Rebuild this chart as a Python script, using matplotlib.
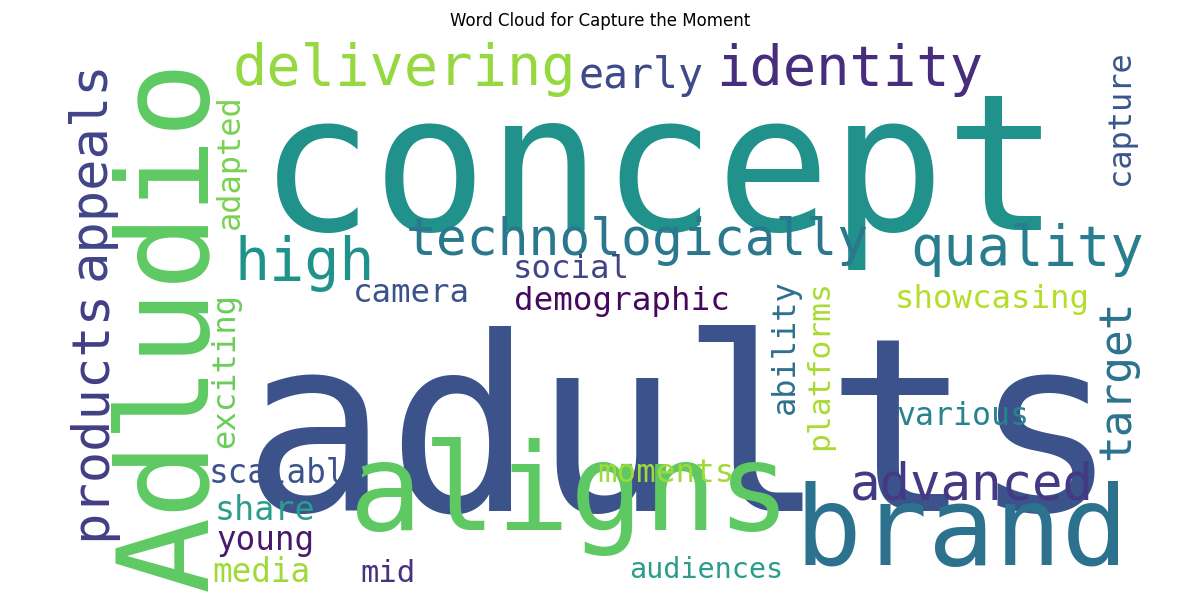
import matplotlib
matplotlib.use("Agg")
import matplotlib.pyplot as plt

# word data
words = ["adults", "concept", "Adludio", "aligns", "brand", "delivering", "identity", "early",
         "technologically", "high", "quality", "appeals", "products", "target", "advanced",
         "capture", "adapted", "social", "camera", "demographic", "showcasing", "exciting",
         "ability", "platforms", "various", "scalable", "moments", "share", "young", "media",
         "mid", "audiences"]
sizes_pt = [175, 137, 91, 88, 80, 41, 40, 30, 37, 42, 40, 37.5, 37.5, 32, 36.5,
            23, 23, 23.3, 23.3, 23.4, 23.3, 23.2, 23, 22.6, 22.7, 23.5, 23.4, 24, 23.5, 23.5, 22, 20.5]
colors = ["#3b528b", "#21918c", "#5ec962", "#5ec962", "#2c728e", "#95d840", "#472d7b", "#3e4a89",
          "#2a788e", "#20928c", "#287d8e", "#414487", "#433e85", "#2c728e", "#443983",
          "#39568c", "#7ad151", "#414487", "#3b528b", "#46085c", "#b5de2b", "#6ccd5a",
          "#2d708e", "#a8db34", "#25848e", "#3b528b", "#a0da39", "#2a9d8c", "#481a6c", "#a0da39",
          "#46327e", "#2a9d8c"]
# layout (pixel anchor: center along text, baseline), rotation
xs = [680, 660, 207, 570, 962, 405, 850, 641, 637, 305, 1027, 105, 105, 1129, 972,
      1129, 239, 571, 411, 622, 992, 234, 794, 828, 963, 287, 666, 265, 265, 261, 388, 706]
ys = [510, 230, 325, 530, 565, 85, 85, 88, 255, 280, 265, 170, 415, 380, 500,
      118, 162, 278, 302, 310, 308, 370, 347, 365, 425, 483, 482, 520, 550, 582, 582, 578]
rots = [0, 0, 90, 0, 0, 0, 0, 0, 0, 0, 0, 90, 90, 90, 0,
        90, 90, 0, 0, 0, 0, 90, 90, 90, 0, 0, 0, 0, 0, 0, 0, 0]

fig = plt.figure(figsize=(12, 6), dpi=100)
ax = fig.add_axes([0, 0, 1, 1])
ax.set_xlim(0, 1200)
ax.set_ylim(600, 0)
ax.axis("off")

for w, s, c, x, y, r in zip(words, sizes_pt, colors, xs, ys, rots):
    ax.text(x, y, w, fontsize=s, color=c, rotation=r, rotation_mode="anchor",
            ha="center", va="baseline", family="DejaVu Sans Mono")

fig.text(0.5, 1 - 21 / 600, "Word Cloud for Capture the Moment", ha="center", va="center", fontsize=12)
fig.savefig("out.png", dpi=100, facecolor="white")
